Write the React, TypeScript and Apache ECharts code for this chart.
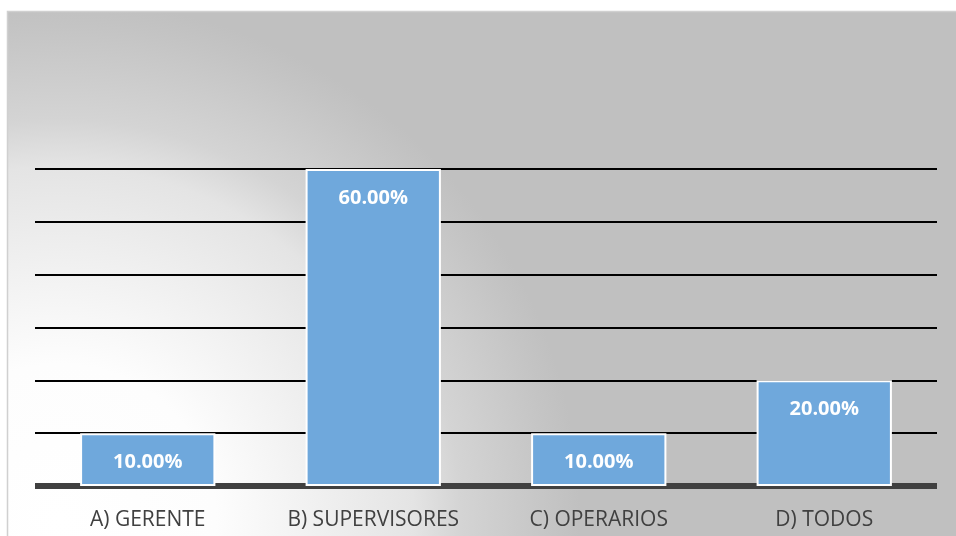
import React, { useEffect, useRef } from "react";
import * as echarts from "echarts";

const categories = ["A) GERENTE", "B) SUPERVISORES", "C) OPERARIOS", "D) TODOS"];
const values = [0.1, 0.6, 0.1, 0.2];

export default function App() {
  const ref = useRef<HTMLDivElement>(null);
  useEffect(() => {
    if (!ref.current) return;
    const chart = echarts.init(ref.current, null, { renderer: "svg" });
    chart.setOption({
      animation: false,
      graphic: [
        {
          type: "rect",
          z: -10,
          silent: true,
          shape: { x: 7.5, y: 11.5, width: 960, height: 540 },
          style: {
            fill: new echarts.graphic.RadialGradient(60, 520, 520, [
              { offset: 0, color: "#ffffff" },
              { offset: 0.3, color: "#fdfdfd" },
              { offset: 0.68, color: "#e4e4e4" },
              { offset: 0.77, color: "#d4d4d4" },
              { offset: 0.95, color: "#c4c4c4" },
              { offset: 1, color: "#c0c0c0" },
            ], true),
            stroke: "#d0d0d0",
            lineWidth: 1.5,
          },
        },
      ],
      grid: { left: 35, right: 19, top: 169, bottom: 50 },
      xAxis: {
        type: "category",
        data: categories,
        axisLine: { lineStyle: { color: "#404040", width: 6, cap: "butt" } },
        axisTick: { show: false },
        axisLabel: {
          color: "#404040",
          fontSize: 21,
          fontFamily: "Open Sans",
          margin: 21,
        },
      },
      yAxis: {
        type: "value",
        min: 0,
        max: 0.6,
        interval: 0.1,
        axisLabel: { show: false },
        axisLine: { show: false },
        axisTick: { show: false },
        splitLine: { lineStyle: { color: "#000000", width: 2 } },
      },
      series: [
        {
          type: "bar",
          data: values,
          barWidth: "60%",
          itemStyle: { color: "#6fa8dc", borderColor: "#ffffff", borderWidth: 2 },
          label: {
            show: true,
            position: "insideTop",
            distance: 17,
            color: "#ffffff",
            fontWeight: "bold",
            fontSize: 20,
            fontFamily: "Open Sans",
            formatter: (p: any) => (p.value * 100).toFixed(2) + "%",
          },
        },
      ],
    });
    return () => chart.dispose();
  }, []);
  return (
    <div
      ref={ref}
      style={{ position: "fixed", left: 0, top: 0, width: 956, height: 536 }}
    />
  );
}
